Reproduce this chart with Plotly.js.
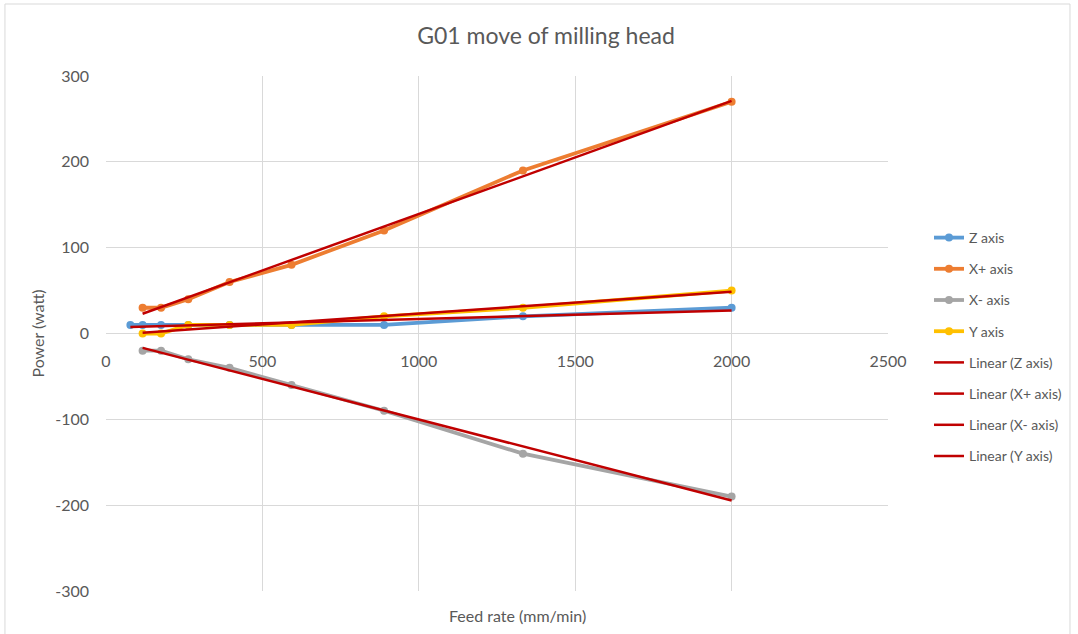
<!DOCTYPE html>
<html>
<head>
<meta charset="utf-8">
<script src="https://cdn.plot.ly/plotly-3.0.1.min.js"></script>
<style>
  html, body { margin: 0; padding: 0; background: #ffffff; }
  #chart { width: 1078px; height: 634px; }
</style>
</head>
<body>
<div id="chart"></div>
<script>
// Feed rates (mm/min) at which each axis was measured
const feedZ = [78, 117, 176, 263, 395, 593, 889, 1333, 2000];
const feedXY = [117, 176, 263, 395, 593, 889, 1333, 2000];

// Measured power draw (watt)
const powerZ = [10, 10, 10, 10, 10, 10, 10, 20, 30];
const powerXplus = [30, 30, 40, 60, 80, 120, 190, 270];
const powerXminus = [-20, -20, -30, -40, -60, -90, -140, -190];
const powerY = [0, 0, 10, 10, 10, 20, 30, 50];

const seriesNames = ['Z axis', 'X+ axis', 'X- axis', 'Y axis'];
const seriesColors = ['#5b9bd5', '#ed7d31', '#a5a5a5', '#ffc000'];
const trendColor = '#c00000';

const xTicks = [0, 500, 1000, 1500, 2000, 2500];
const yTicks = [-300, -200, -100, 0, 100, 200, 300];

const FONT = 'Lato, "Open Sans", sans-serif';
const TEXT = '#595959';

const series = [
  { x: feedZ, y: powerZ },
  { x: feedXY, y: powerXplus },
  { x: feedXY, y: powerXminus },
  { x: feedXY, y: powerY }
];

// Least-squares straight line through a series, spanning its x extent
function linearFit(xs, ys) {
  const n = xs.length;
  const mx = xs.reduce((a, b) => a + b, 0) / n;
  const my = ys.reduce((a, b) => a + b, 0) / n;
  let sxy = 0, sxx = 0;
  for (let i = 0; i < n; i++) {
    sxy += (xs[i] - mx) * (ys[i] - my);
    sxx += (xs[i] - mx) * (xs[i] - mx);
  }
  const slope = sxy / sxx;
  const icpt = my - slope * mx;
  const x0 = Math.min(...xs), x1 = Math.max(...xs);
  return { x: [x0, x1], y: [icpt + slope * x0, icpt + slope * x1] };
}

const traces = [];
series.forEach((s, i) => {
  traces.push({
    type: 'scatter', mode: 'lines+markers',
    x: s.x, y: s.y, name: seriesNames[i],
    legendgroup: 'g' + i,
    line: { color: seriesColors[i], width: 3.8 },
    marker: { color: seriesColors[i], size: 8 },
    hoverinfo: 'skip'
  });
});
series.forEach((s, i) => {
  const fit = linearFit(s.x, s.y);
  traces.push({
    type: 'scatter', mode: 'lines',
    x: fit.x, y: fit.y, name: 'Linear (' + seriesNames[i] + ')',
    legendgroup: 't' + i,
    line: { color: trendColor, width: 2.5 },
    hoverinfo: 'skip'
  });
});

const layout = {
  width: 1078, height: 634,
  margin: { l: 106, r: 190, t: 76, b: 43, autoexpand: false },
  paper_bgcolor: '#ffffff', plot_bgcolor: '#ffffff',
  font: { family: FONT, color: TEXT, size: 16 },
  title: {
    text: 'G01 move of milling head',
    x: 0.5065, xref: 'container', xanchor: 'center',
    y: 0.9432, yref: 'container', yanchor: 'middle',
    font: { family: FONT, size: 23, color: TEXT }
  },
  xaxis: {
    range: [0, 2500], tickvals: xTicks, ticktext: xTicks.map(String),
    showgrid: true, gridcolor: '#d9d9d9', gridwidth: 1,
    zeroline: false, showline: false, ticks: '',
    anchor: 'free', position: 0.5, ticklabelstandoff: 16,
    tickfont: { family: FONT, size: 16, color: TEXT },
    fixedrange: true
  },
  yaxis: {
    range: [-300, 300], tickvals: yTicks, ticktext: yTicks.map(String),
    showgrid: true, gridcolor: '#d9d9d9', gridwidth: 1,
    zeroline: true, zerolinecolor: '#d9d9d9', zerolinewidth: 1,
    showline: false, ticks: '', ticklabelstandoff: 16,
    tickfont: { family: FONT, size: 16, color: TEXT },
    fixedrange: true
  },
  showlegend: true,
  legend: {
    x: 1.0524, xanchor: 'left', y: 0.7165, yanchor: 'top',
    traceorder: 'grouped', tracegroupgap: 10,
    font: { family: FONT, size: 14, color: TEXT },
    bgcolor: 'rgba(0,0,0,0)'
  },
  annotations: [
    {
      text: 'Feed rate (mm/min)', xref: 'paper', yref: 'paper',
      x: 0.5256, y: -0.0485, xanchor: 'center', yanchor: 'middle',
      showarrow: false, font: { family: FONT, size: 16, color: TEXT }
    },
    {
      text: 'Power (watt)', xref: 'paper', yref: 'paper',
      x: -0.0882, y: 0.5, xanchor: 'center', yanchor: 'middle',
      textangle: -90, showarrow: false,
      font: { family: FONT, size: 16, color: TEXT }
    }
  ],
  shapes: [
    {
      type: 'rect', xref: 'paper', yref: 'paper',
      x0: -0.1292, x1: 1.2327, y0: -0.12, y1: 1.1398,
      line: { color: '#d9d9d9', width: 1 }, fillcolor: 'rgba(0,0,0,0)',
      layer: 'below'
    }
  ]
};

Plotly.newPlot('chart', traces, layout, { displayModeBar: false, staticPlot: true });
</script>
</body>
</html>
